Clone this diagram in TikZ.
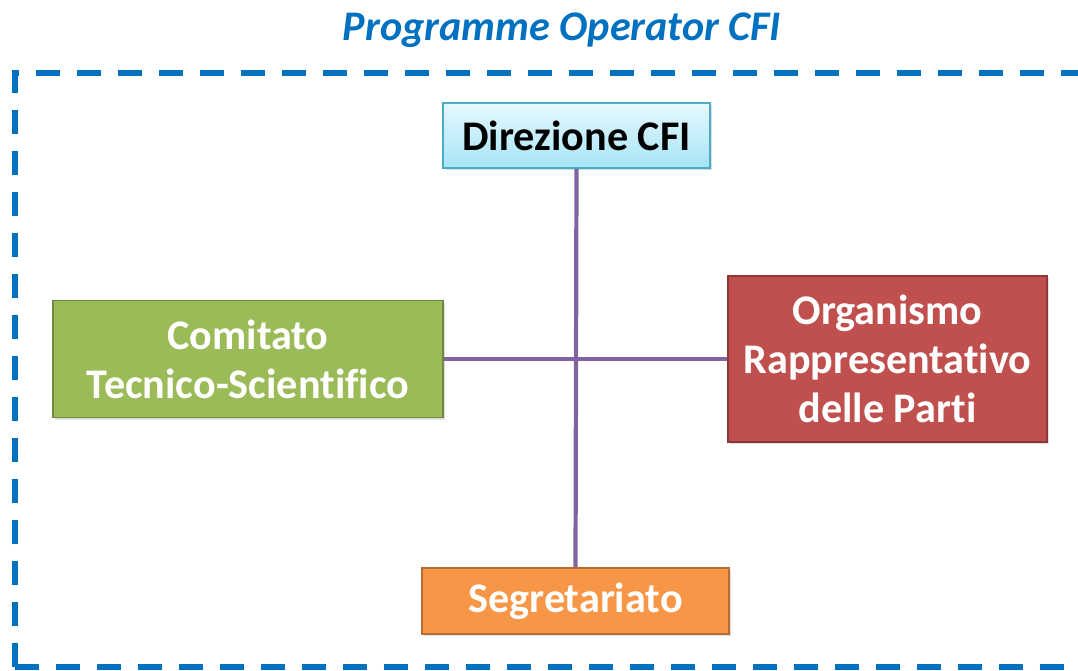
\documentclass[tikz,border=0pt]{standalone}
\usepackage{fontspec}
\setmainfont{Carlito}[Ligatures=NoCommon]
\usetikzlibrary{shadows}
\definecolor{cfiblue}{RGB}{0,112,192}
\definecolor{linkpurple}{RGB}{128,100,162}
\definecolor{dirtop}{RGB}{230,248,254}
\definecolor{dirbottom}{RGB}{166,228,247}
\definecolor{dirborder}{RGB}{75,172,198}
\definecolor{ctsfill}{RGB}{155,187,89}
\definecolor{ctsborder}{RGB}{113,137,63}
\definecolor{orpfill}{RGB}{192,80,77}
\definecolor{orpborder}{RGB}{140,56,54}
\definecolor{segfill}{RGB}{247,150,70}
\definecolor{segborder}{RGB}{182,109,49}
\tikzset{
  box/.style={rectangle,draw,line width=1.1pt,align=center,
    font=\fontsize{24}{28}\selectfont\bfseries,
    drop shadow={opacity=0.25,shadow xshift=1.2pt,shadow yshift=-1.2pt}},
  link/.style={linkpurple,line width=2.4pt}
}
\begin{document}
\begin{tikzpicture}[x=0.02cm,y=-0.02cm]
\useasboundingbox (0,0) rectangle (1078,671);
\node[text=cfiblue,font=\fontsize{24}{28}\selectfont\bfseries\itshape] (title) at (562,30) {Programme Operator CFI};
\draw[cfiblue,line width=3pt,dash pattern=on 0.48cm off 0.34cm] (15,667) -- (15,73) -- (1100,73);
\draw[cfiblue,line width=3pt,dash pattern=on 0.48cm off 0.34cm] (15,667) -- (1100,667);
\node[box,draw=dirborder,top color=dirtop,bottom color=dirbottom,text=black,minimum width=5.34cm,minimum height=1.30cm] (dir) at (576.5,135.5) {Direzione CFI};
\node[box,draw=ctsborder,fill=ctsfill,text=white,minimum width=7.8cm,minimum height=2.34cm] (cts) at (248,359) {Comitato\\Tecnico-Scientifico};
\node[box,draw=orpborder,fill=orpfill,text=white,minimum width=6.38cm,minimum height=3.32cm] (orp) at (887.5,359) {Organismo\\Rappresentativo\\delle Parti};
\node[box,draw=segborder,fill=segfill,text=white,minimum width=6.14cm,minimum height=1.32cm] (seg) at (575.5,601) {Segretariato};
\draw[link] (dir.south) -- (seg.north);
\draw[link] (cts.east) -- (orp.west);
\end{tikzpicture}
\end{document}
